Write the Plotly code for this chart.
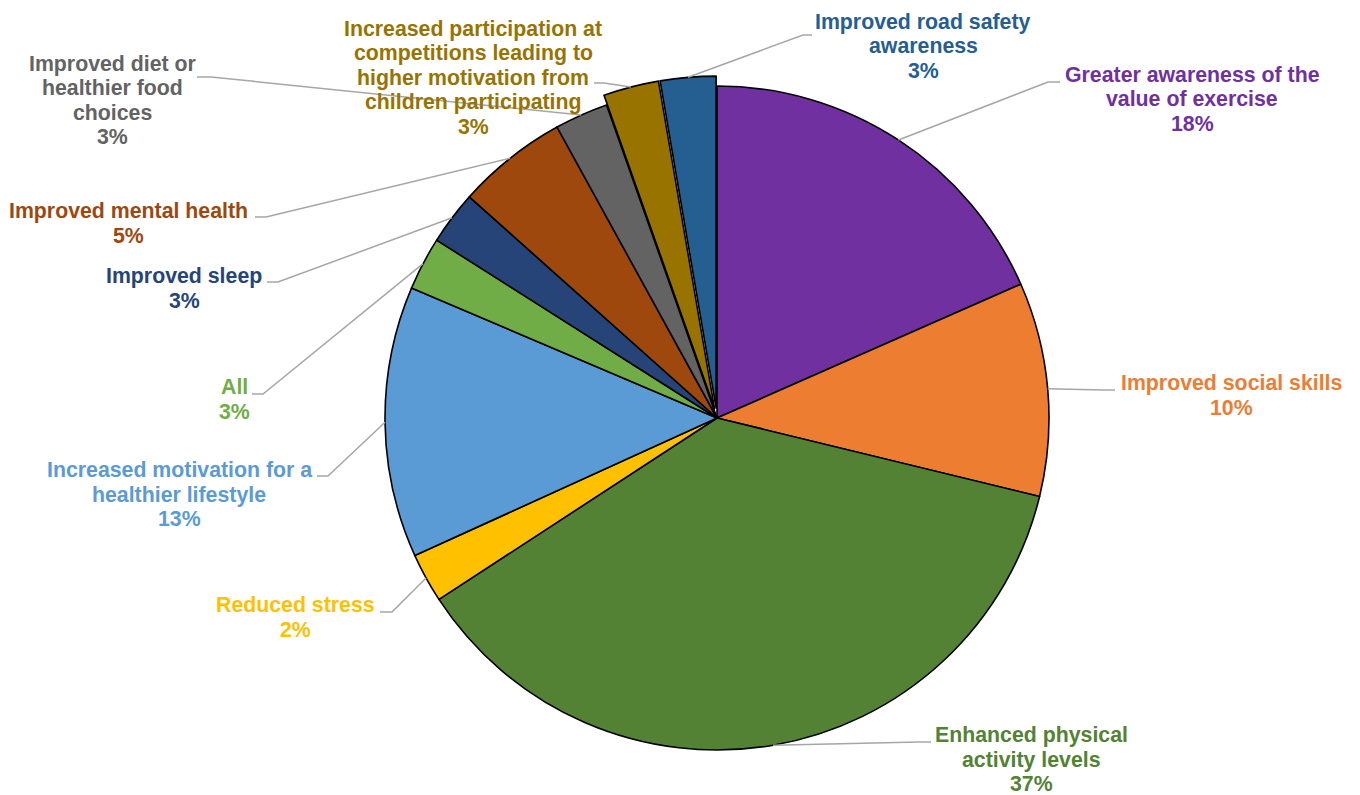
import math
import plotly.graph_objects as go

# ---------------- data ----------------
categories = [
    "Greater awareness of the<br>value of exercise",
    "Improved social skills",
    "Enhanced physical<br>activity levels",
    "Reduced stress",
    "Increased motivation for a<br>healthier lifestyle",
    "All",
    "Improved sleep",
    "Improved mental health",
    "Improved diet or<br>healthier food<br>choices",
    "Increased participation at<br>competitions leading to<br>higher motivation from<br>children participating",
    "Improved road safety<br>awareness",
]
values = [18.4, 10.4, 37.0, 2.4, 13.2, 2.6, 2.6, 5.4, 2.6, 2.7, 2.7]
pulls = [0, 0, 0, 0, 0, 0, 0, 0, 0, 0.03, 0.03]
colors = ["#7030A0", "#ED7D31", "#548235", "#FFC000", "#5B9BD5", "#70AD47",
          "#264478", "#9E480E", "#636363", "#997300", "#255E91"]

# ---------------- layout / style ----------------
W, H = 1360, 795
CX, CY, R = 717, 418, 332          # pie centre and radius in pixels
max_pull = max(pulls)
half = R * (1 + max_pull)

# label placement (pixel centre x, first-line centre y)
label_pos = [(1192, 75), (1231, 383), (1031, 735), (295, 605), (179, 470),
             (234, 387), (184, 276), (128, 211), (112, 64), (473, 29), (923, 22)]
# leader-line elbow and end points (pixels)
leader_pts = [((1048, 82), (1060, 82)), ((1103, 390), (1115, 390)),
              ((919, 742), (931, 742)), ((392, 612), (380, 612)),
              ((328, 476), (317, 476)), ((263, 394), (252, 394)),
              ((278, 282), (267, 282)), ((266, 217), (255, 217)),
              ((211, 77), (197, 77)), ((604, 83), (594, 83)),
              ((803, 35), (812, 35))]
LINE_STEP = 24.5
FONT = "Liberation Sans, Arial, sans-serif"
FSIZE = 21.3


def px(x):
    return x / W


def py(y):
    return 1 - y / H


fig = go.Figure()
fig.add_trace(go.Pie(
    labels=[c.replace("<br>", " ") for c in categories],
    values=values,
    pull=pulls,
    sort=False,
    direction="clockwise",
    rotation=0,
    textinfo="none",
    marker=dict(colors=colors, line=dict(color="#000000", width=1.6)),
    domain=dict(x=[px(CX - half), px(CX + half)], y=[py(CY + half), py(CY - half)]),
    showlegend=False,
))

total = sum(values)
annotations = []
shapes = []
cum = 0.0
for i, v in enumerate(values):
    mid = (cum + v / 2) / total
    cum += v
    ang = 2 * math.pi * mid
    r = R * (1 + pulls[i])
    sx = CX + r * math.sin(ang)
    sy = CY - r * math.cos(ang)
    (ex, ey), (tx, ty) = leader_pts[i]
    shapes.append(dict(
        type="path", xref="paper", yref="paper",
        path=f"M {px(sx)},{py(sy)} L {px(ex)},{py(ey)} L {px(tx)},{py(ty)}",
        line=dict(color="#A6A6A6", width=1.5),
    ))
    lines = categories[i].split("<br>") + [f"{round(v / total * 100)}%"]
    lx, ly = label_pos[i]
    for k, t in enumerate(lines):
        annotations.append(dict(
            x=px(lx), y=py(ly + k * LINE_STEP), xref="paper", yref="paper",
            text=t, showarrow=False, xanchor="center", yanchor="middle",
            font=dict(family=FONT, size=FSIZE, color=colors[i], weight="bold"),
        ))

fig.update_layout(
    width=W, height=H,
    margin=dict(l=0, r=0, t=0, b=0),
    paper_bgcolor="#FFFFFF",
    plot_bgcolor="#FFFFFF",
    annotations=annotations,
    shapes=shapes,
)

fig.write_html(
    "out.html",
    config={"displayModeBar": False},
    post_script="document.body.style.margin='0';document.body.style.overflow='hidden';",
)
